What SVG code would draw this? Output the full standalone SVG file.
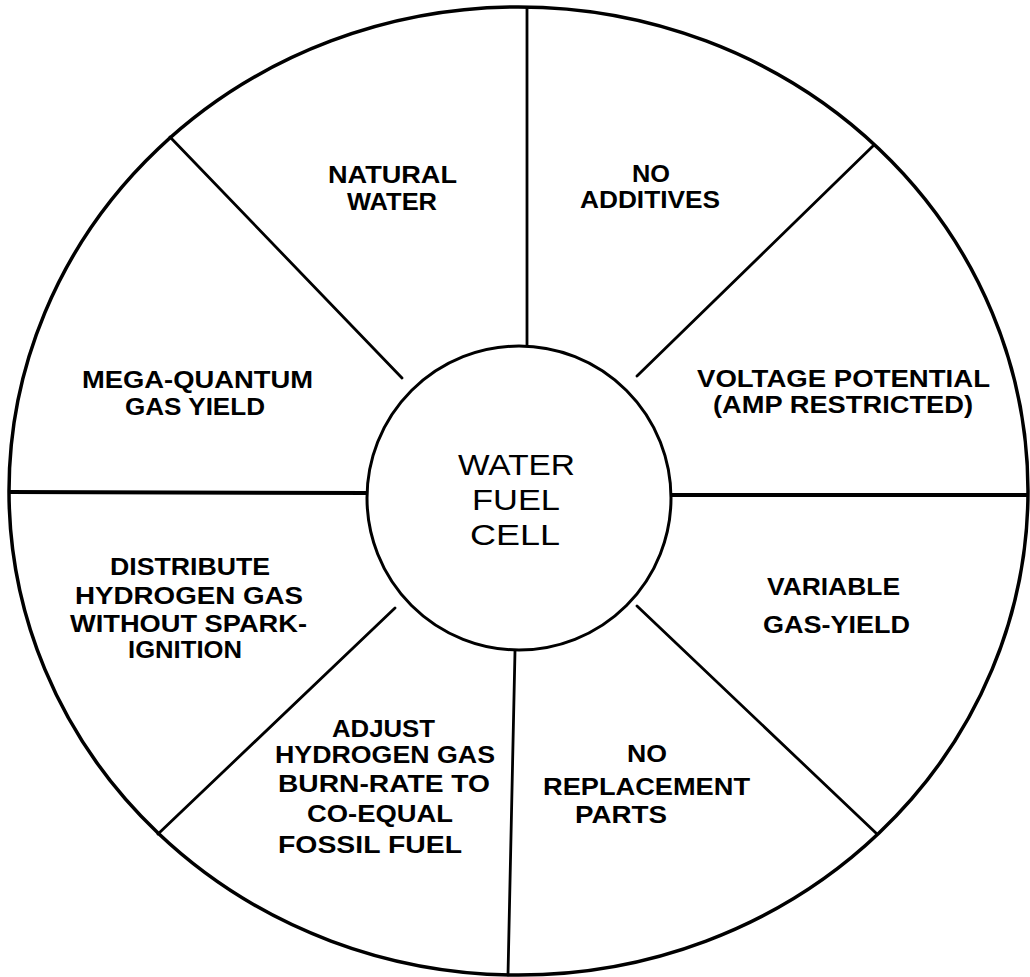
<svg xmlns="http://www.w3.org/2000/svg" width="1030" height="977" viewBox="0 0 1030 977">
<style>
.lbl{font-family:"Liberation Sans",Arial,sans-serif;font-weight:bold;font-size:24px;fill:#000}
.ctr{font-family:"Liberation Sans",Arial,sans-serif;font-size:30px;fill:#000}
.ln{stroke:#000;stroke-width:2.8;fill:none;stroke-linecap:round}
.hz{stroke:#000;stroke-width:4;fill:none}
</style>
<rect width="1030" height="977" fill="#fff"/>
<g id="connectors">
<ellipse cx="518.5" cy="491" rx="509.5" ry="484" fill="none" stroke="#000" stroke-width="3.5"/>
<line class="ln" x1="527" y1="8" x2="527" y2="346"/>
<line class="ln" x1="515" y1="651" x2="508" y2="975"/>
<line class="hz" x1="9" y1="492" x2="367" y2="493"/>
<line class="hz" x1="671" y1="495" x2="1028" y2="495"/>
<line class="ln" x1="402" y1="378" x2="170" y2="137"/>
<line class="ln" x1="637" y1="376" x2="874" y2="145"/>
<line class="ln" x1="395" y1="608" x2="158" y2="834"/>
<line class="ln" x1="637" y1="606" x2="877" y2="834"/>
</g>
<g id="center">
<circle cx="519" cy="498" r="152" fill="#fff" stroke="#000" stroke-width="3"/>
<text class="ctr" x="458" y="475" textLength="117" lengthAdjust="spacingAndGlyphs">WATER</text>
<text class="ctr" x="472" y="510" textLength="88" lengthAdjust="spacingAndGlyphs">FUEL</text>
<text class="ctr" x="470" y="545" textLength="90" lengthAdjust="spacingAndGlyphs">CELL</text>
</g>
<g id="natural-water">
<text class="lbl" x="328" y="183" textLength="129" lengthAdjust="spacingAndGlyphs">NATURAL</text>
<text class="lbl" x="347" y="210" textLength="90" lengthAdjust="spacingAndGlyphs">WATER</text>
</g>
<g id="no-additives">
<text class="lbl" x="632" y="182" textLength="38" lengthAdjust="spacingAndGlyphs">NO</text>
<text class="lbl" x="580" y="208" textLength="140" lengthAdjust="spacingAndGlyphs">ADDITIVES</text>
</g>
<g id="mega-quantum">
<text class="lbl" x="82" y="388" textLength="231" lengthAdjust="spacingAndGlyphs">MEGA-QUANTUM</text>
<text class="lbl" x="125" y="415" textLength="140" lengthAdjust="spacingAndGlyphs">GAS YIELD</text>
</g>
<g id="voltage-potential">
<text class="lbl" x="697" y="387" textLength="293" lengthAdjust="spacingAndGlyphs">VOLTAGE POTENTIAL</text>
<text class="lbl" x="713" y="413" textLength="260" lengthAdjust="spacingAndGlyphs">(AMP RESTRICTED)</text>
</g>
<g id="distribute">
<text class="lbl" x="110" y="575" textLength="160" lengthAdjust="spacingAndGlyphs">DISTRIBUTE</text>
<text class="lbl" x="75" y="604" textLength="228" lengthAdjust="spacingAndGlyphs">HYDROGEN GAS</text>
<text class="lbl" x="70" y="632" textLength="237" lengthAdjust="spacingAndGlyphs">WITHOUT SPARK-</text>
<text class="lbl" x="128" y="658" textLength="114" lengthAdjust="spacingAndGlyphs">IGNITION</text>
</g>
<g id="variable-gas-yield">
<text class="lbl" x="767" y="595" textLength="133" lengthAdjust="spacingAndGlyphs">VARIABLE</text>
<text class="lbl" x="763" y="633" textLength="147" lengthAdjust="spacingAndGlyphs">GAS-YIELD</text>
</g>
<g id="adjust">
<text class="lbl" x="332" y="737" textLength="103" lengthAdjust="spacingAndGlyphs">ADJUST</text>
<text class="lbl" x="275" y="763" textLength="220" lengthAdjust="spacingAndGlyphs">HYDROGEN GAS</text>
<text class="lbl" x="278" y="792" textLength="212" lengthAdjust="spacingAndGlyphs">BURN-RATE TO</text>
<text class="lbl" x="307" y="822" textLength="146" lengthAdjust="spacingAndGlyphs">CO-EQUAL</text>
<text class="lbl" x="278" y="853" textLength="184" lengthAdjust="spacingAndGlyphs">FOSSIL FUEL</text>
</g>
<g id="no-replacement">
<text class="lbl" x="627" y="762" textLength="40" lengthAdjust="spacingAndGlyphs">NO</text>
<text class="lbl" x="543" y="795" textLength="207" lengthAdjust="spacingAndGlyphs">REPLACEMENT</text>
<text class="lbl" x="575" y="823" textLength="92" lengthAdjust="spacingAndGlyphs">PARTS</text>
</g>
</svg>
